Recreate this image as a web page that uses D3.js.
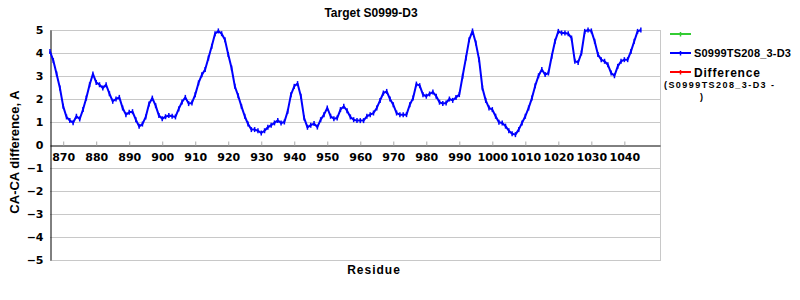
<!DOCTYPE html>
<html>
<head>
<meta charset="utf-8">
<script src="https://cdn.jsdelivr.net/npm/d3@7"></script>
<style>
  body { margin: 0; background: #fff; }
  svg { display: block; }
</style>
</head>
<body>
<svg id="chart" width="800" height="300"></svg>
<script>
// Data (residue 866 onwards, one value per residue)
const firstResidue = 866;
const caDiff = [
  4.07, 3.67, 3.09, 2.48, 1.68, 1.22, 1.06, 0.97, 1.25, 1.13,
  1.54, 2.04, 2.62, 3.09, 2.72, 2.62, 2.48, 2.62, 2.23, 1.90,
  2.00, 2.07, 1.61, 1.32, 1.42, 1.45, 1.10, 0.81, 0.91, 1.22,
  1.78, 2.04, 1.71, 1.28, 1.14, 1.23, 1.28, 1.25, 1.22, 1.57,
  1.87, 2.07, 1.80, 1.83, 2.19, 2.70, 3.05, 3.28, 3.78, 4.29,
  4.84, 4.96, 4.84, 4.58, 3.93, 3.35, 2.55, 2.14, 1.68, 1.25,
  0.91, 0.67, 0.67, 0.62, 0.52, 0.62, 0.77, 0.86, 0.96, 1.07,
  0.96, 1.00, 1.46, 2.19, 2.55, 2.67, 2.12, 1.17, 0.77, 0.86,
  0.93, 0.78, 1.10, 1.32, 1.61, 1.25, 1.14, 1.17, 1.54, 1.68,
  1.49, 1.22, 1.10, 1.06, 1.06, 1.06, 1.25, 1.32, 1.39, 1.61,
  1.94, 2.26, 2.33, 2.00, 1.75, 1.39, 1.32, 1.32, 1.32, 1.75,
  2.04, 2.65, 2.58, 2.19, 2.12, 2.22, 2.30, 2.12, 1.86, 1.80,
  1.83, 2.00, 1.94, 2.07, 2.19, 2.99, 3.78, 4.58, 4.96, 4.43,
  3.71, 2.48, 1.94, 1.61, 1.54, 1.25, 0.99, 0.96, 0.82, 0.62,
  0.49, 0.45, 0.67, 0.96, 1.25, 1.61, 2.04, 2.58, 3.01, 3.28,
  3.06, 3.13, 3.86, 4.51, 4.94, 4.87, 4.87, 4.84, 4.65, 3.64,
  3.59, 4.00, 4.94, 5.00, 4.96, 4.51, 3.93, 3.71, 3.64, 3.49,
  3.13, 3.01, 3.42, 3.64, 3.71, 3.71, 4.07, 4.51, 4.94, 5.00
];
const xTicks = [870, 880, 890, 900, 910, 920, 930, 940, 950, 960, 970, 980, 990, 1000, 1010, 1020, 1030, 1040];
const yTicks = [-5, -4, -3, -2, -1, 0, 1, 2, 3, 4, 5];
const legendItems = [
  { label: "", color: "#33cc33" },
  { label: "S0999TS208_3-D3", color: "#0000ff" },
  { label: "Difference", color: "#ff0000" }
];

const points = caDiff.map((v, i) => ({ residue: firstResidue + i, value: v }));

const svg = d3.select("#chart");
const plot = { left: 50, right: 660, top: 30, bottom: 260 };

const x = d3.scaleLinear().domain([866, 1050.8]).range([plot.left, plot.right]);
const y = d3.scaleLinear().domain([-5, 5]).range([plot.bottom, plot.top]);

// Grid lines
svg.append("g")
  .selectAll("line")
  .data(yTicks.filter(d => d !== 0))
  .enter().append("line")
    .attr("x1", plot.left)
    .attr("x2", plot.right)
    .attr("y1", d => y(d) + 0.5)
    .attr("y2", d => y(d) + 0.5)
    .attr("stroke", "#c8c8c8");

// Right frame
svg.append("line")
  .attr("x1", plot.right + 0.5).attr("x2", plot.right + 0.5)
  .attr("y1", plot.top).attr("y2", plot.bottom + 1)
  .attr("stroke", "#c8c8c8");

// X axis along zero
const xAxis = svg.append("g")
  .attr("transform", `translate(0,${Math.round(y(0)) + 0.5})`)
  .call(d3.axisBottom(x)
    .tickValues(xTicks)
    .tickFormat(d3.format("d"))
    .tickSize(-4)
    .tickSizeOuter(0)
    .tickPadding(8));
xAxis.select(".domain").attr("stroke", "#000");
xAxis.selectAll(".tick line").attr("stroke", "#aaa");
xAxis.selectAll("text")
  .attr("font-family", "DejaVu Sans")
  .attr("font-size", 11)
  .attr("font-weight", "bold")
  .attr("fill", "#000");

// Y axis
const yAxis = svg.append("g")
  .attr("transform", `translate(${plot.left + 0.5},0)`)
  .call(d3.axisLeft(y)
    .tickValues(yTicks)
    .tickSize(0)
    .tickPadding(7));
yAxis.select(".domain").attr("stroke", "#000");
yAxis.selectAll("text")
  .attr("font-family", "DejaVu Sans")
  .attr("font-size", 11)
  .attr("font-weight", "bold")
  .attr("fill", "#000");

// Series line
const line = d3.line()
  .x(d => x(d.residue))
  .y(d => y(d.value));

svg.append("path")
  .datum(points)
  .attr("fill", "none")
  .attr("stroke", "#0000ff")
  .attr("stroke-width", 2)
  .attr("stroke-linejoin", "round")
  .attr("d", line);

// small point markers
svg.append("g")
  .selectAll("line")
  .data(points)
  .enter().append("line")
    .attr("x1", d => x(d.residue))
    .attr("x2", d => x(d.residue))
    .attr("y1", d => y(d.value) - 2.5)
    .attr("y2", d => y(d.value) + 2.5)
    .attr("stroke", "#0000ff")
    .attr("stroke-width", 1.5);

// Titles
svg.append("text")
  .attr("x", 371)
  .attr("y", 17)
  .attr("text-anchor", "middle")
  .attr("font-family", "Liberation Sans, Arial")
  .attr("font-size", 12)
  .attr("font-weight", "bold")
  .text("Target S0999-D3");

svg.append("text")
  .attr("x", 374)
  .attr("y", 274)
  .attr("text-anchor", "middle")
  .attr("font-family", "Liberation Sans, Arial")
  .attr("font-size", 12)
  .attr("font-weight", "bold")
  .attr("letter-spacing", 1)
  .text("Residue");

svg.append("text")
  .attr("transform", "translate(19,152) rotate(-90)")
  .attr("text-anchor", "middle")
  .attr("font-family", "Liberation Sans, Arial")
  .attr("font-size", 13)
  .attr("font-weight", "bold")
  .text("CA-CA difference, A");

// Legend
const legend = svg.append("g")
  .selectAll("g")
  .data(legendItems)
  .enter().append("g")
    .attr("transform", (d, i) => `translate(670,${34 + i * 19})`);

legend.append("line")
  .attr("x1", 0).attr("x2", 21)
  .attr("stroke", d => d.color)
  .attr("stroke-width", 2);

legend.append("line")
  .attr("x1", 10.5).attr("x2", 10.5)
  .attr("y1", -2).attr("y2", 2.5)
  .attr("stroke", d => d.color)
  .attr("stroke-width", 1.5);

legend.append("text")
  .attr("x", 24)
  .attr("y", (d, i) => i === 2 ? 4.5 : 4)
  .attr("font-family", "Liberation Sans, Arial")
  .attr("font-size", (d, i) => i === 2 ? 12 : 11)
  .attr("font-weight", "bold")
  .attr("letter-spacing", (d, i) => i === 2 ? 0.8 : 0.2)
  .text(d => d.label);

svg.append("text")
  .attr("x", 664)
  .attr("y", 88)
  .attr("font-family", "Liberation Sans, Arial")
  .attr("font-size", 9)
  .attr("font-weight", "bold")
  .attr("textLength", 110)
  .attr("lengthAdjust", "spacing")
  .text("(S0999TS208_3-D3 -");

svg.append("text")
  .attr("x", 700)
  .attr("y", 100)
  .attr("font-family", "Liberation Sans, Arial")
  .attr("font-size", 9)
  .attr("font-weight", "bold")
  .text(")");
</script>
</body>
</html>
